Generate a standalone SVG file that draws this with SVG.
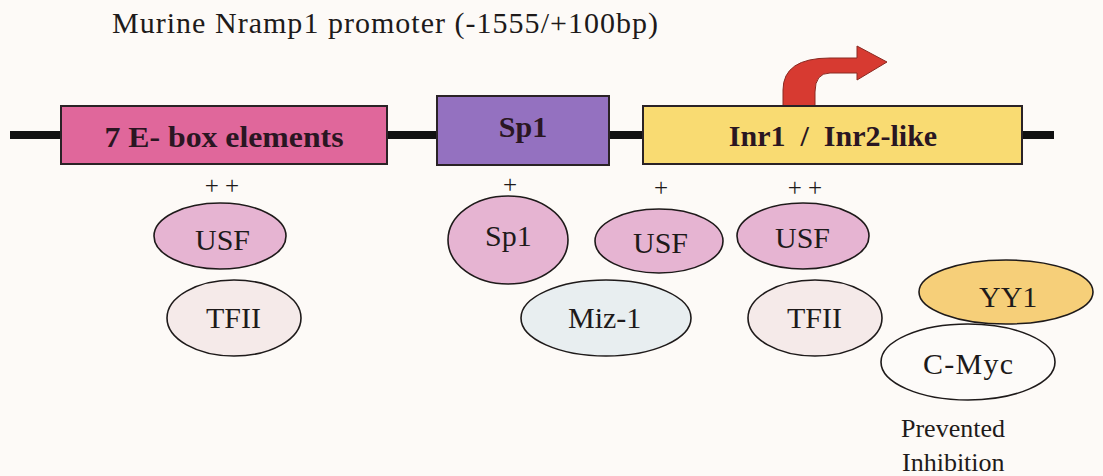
<svg xmlns="http://www.w3.org/2000/svg" width="1103" height="476" viewBox="0 0 1103 476">
<style>
text{font-family:"Liberation Serif","Times New Roman",serif;fill:#1e1a1a}
.box{stroke:#2a2226;stroke-width:2}
.bt{font-family:"Liberation Serif","Times New Roman",serif;font-weight:bold;font-size:30px;text-anchor:middle;fill:#2a1622}
.el{stroke:#1e1a1a;stroke-width:1.6}
.et{font-family:"Liberation Serif","Times New Roman",serif;font-size:30px}
.pl{font-size:25px;text-anchor:middle}
.usf{fill:#E6B4D2}
.tf{fill:#F5EAE9}
</style>
<rect width="1103" height="476" fill="#FDFAF7"/>
<text x="112" y="33" font-size="30" textLength="546" lengthAdjust="spacing">Murine Nramp1 promoter (-1555/+100bp)</text>
<g id="connectors">
<line x1="10" y1="135" x2="1054" y2="135" stroke="#111" stroke-width="8"/>
</g>
<g id="ebox">
<rect class="box" x="61" y="106" width="326" height="58" fill="#E0679B"/>
<text class="bt" x="224" y="147" textLength="239" lengthAdjust="spacingAndGlyphs">7 E- box elements</text>
</g>
<g id="sp1box">
<rect class="box" x="437" y="96" width="172" height="69" fill="#9471C0"/>
<text class="bt" x="523" y="137">Sp1</text>
</g>
<g id="arrow">
<path d="M783,106 L783,90 Q783,58 830,58 L857,58 L857,46 L887,62 L857,80 L857,73 L830,73 Q815,73 815,92 L815,106 Z" fill="#D73A31" stroke="#8a2a22" stroke-width="1"/>
</g>
<g id="inrbox">
<rect class="box" x="643" y="106" width="379" height="58" fill="#F9DB72"/>
<text class="bt" x="833" y="146" xml:space="preserve">Inr1  /  Inr2-like</text>
</g>
<g id="usf1">
<text class="pl" x="222" y="194">+ +</text>
<ellipse class="el usf" cx="220" cy="236" rx="66" ry="33"/>
<text class="et" x="195" y="250">USF</text>
</g>
<g id="tfii1">
<ellipse class="el tf" cx="234" cy="318" rx="67" ry="38"/>
<text class="et" x="206" y="328">TFII</text>
</g>
<g id="sp1">
<text class="pl" x="510" y="193">+</text>
<ellipse class="el usf" cx="508" cy="240" rx="60" ry="44"/>
<text class="et" x="485" y="246">Sp1</text>
</g>
<g id="usf2">
<text class="pl" x="661" y="196">+</text>
<ellipse class="el usf" cx="659" cy="241" rx="64" ry="32"/>
<text class="et" x="633" y="253">USF</text>
</g>
<g id="usf3">
<text class="pl" x="805" y="196">+ +</text>
<ellipse class="el usf" cx="803" cy="236" rx="66" ry="33"/>
<text class="et" x="775" y="248">USF</text>
</g>
<g id="miz1">
<ellipse class="el" cx="606" cy="318" rx="85" ry="38" fill="#E8EEF0"/>
<text class="et" x="568" y="328">Miz-1</text>
</g>
<g id="tfii2">
<ellipse class="el tf" cx="815" cy="318" rx="67" ry="38"/>
<text class="et" x="787" y="328">TFII</text>
</g>
<g id="cmyc">
<ellipse class="el" cx="968" cy="362" rx="87" ry="38" fill="#FDFBF9"/>
<text class="et" x="923" y="374" textLength="90">C-Myc</text>
</g>
<g id="yy1">
<ellipse class="el" cx="1006" cy="292" rx="87" ry="32" fill="#F6CF79"/>
<text class="et" x="979" y="307">YY1</text>
</g>
<g id="note">
<text x="901" y="437" font-size="26">Prevented</text>
<text x="902" y="471" font-size="26">Inhibition</text>
</g>
</svg>
